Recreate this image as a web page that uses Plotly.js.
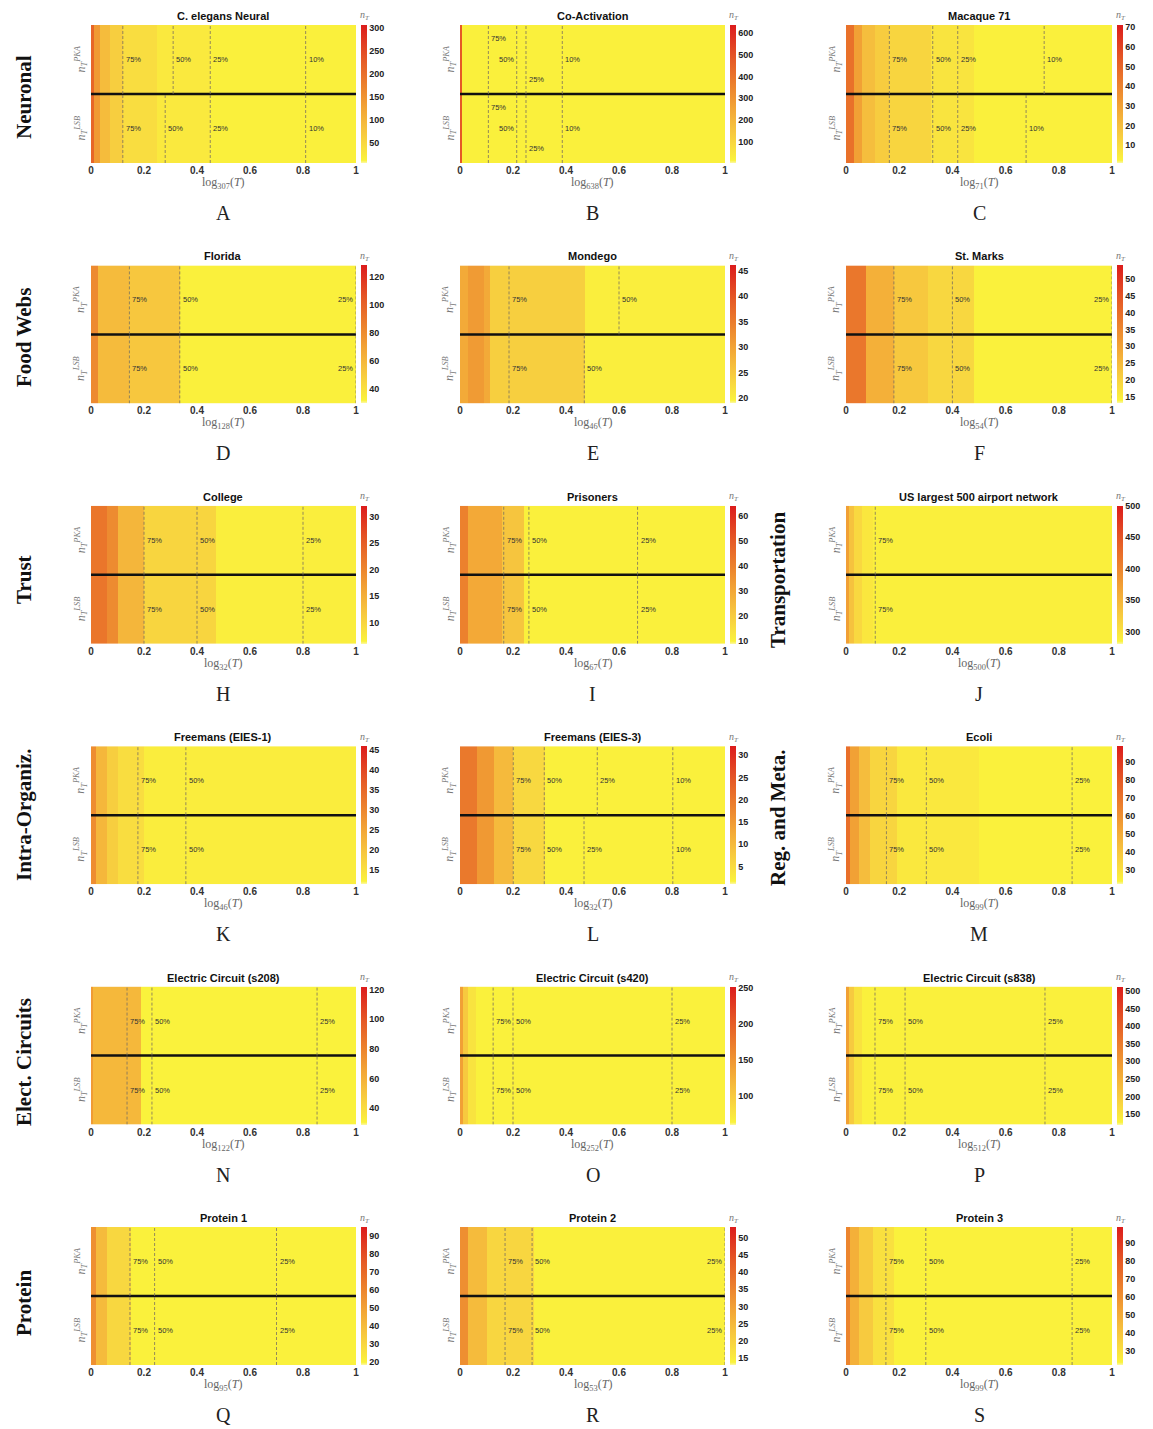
<!DOCTYPE html>
<html><head><meta charset="utf-8">
<script src="https://cdn.plot.ly/plotly-3.0.1.min.js"></script>
<style>html,body{margin:0;padding:0;background:#fff}#chart{width:1153px;height:1429px}</style>
</head><body><div id="chart"></div>
<script>
// ---------------- DATA ----------------
const panelTitles = ['C. elegans Neural','Co-Activation','Macaque 71','Florida','Mondego','St. Marks','College','Prisoners','US largest 500 airport network','Freemans (EIES-1)','Freemans (EIES-3)','Ecoli','Electric Circuit (s208)','Electric Circuit (s420)','Electric Circuit (s838)','Protein 1','Protein 2','Protein 3'];
const panelLetters = ['A','B','C','D','E','F','H','I','J','K','L','M','N','O','P','Q','R','S'];
const logBases = [307,638,71,128,46,54,32,67,500,46,32,99,122,252,512,95,53,99];
const rowLabels = ['Neuronal','Food Webs','Trust','Transportation','Intra-Organiz.','Reg. and Meta.','Elect. Circuits','Protein'];

const cbarMin = [5,0,1,30,19,13,6,9,281,11.5,1,22,29,60,120,18,13,22];
const cbarMax = [307,638,71,128,46,54,32,64,500,46,32,99,122,252,512,95,53,99];
const cbarTicks = [
  [50,100,150,200,250,300],[100,200,300,400,500,600],[10,20,30,40,50,60,70],
  [40,60,80,100,120],[20,25,30,35,40,45],[15,20,25,30,35,40,45,50],
  [10,15,20,25,30],[10,20,30,40,50,60],[300,350,400,450,500],
  [15,20,25,30,35,40,45],[5,10,15,20,25,30],[30,40,50,60,70,80,90],
  [40,60,80,100,120],[100,150,200,250],[150,200,250,300,350,400,450,500],
  [20,30,40,50,60,70,80,90],[15,20,25,30,35,40,45,50],[30,40,50,60,70,80,90]
];

// band edges along log_N(T)
const bandEdges = [
  [0,0.012,0.035,0.07,0.12,0.25,0.45,1],
  [0,0.008,1],
  [0,0.03,0.06,0.11,0.16,0.32,0.48,1],
  [0,0.025,0.145,0.335,1],
  [0,0.03,0.09,0.115,0.47,1],
  [0,0.075,0.18,0.31,0.48,1],
  [0,0.06,0.1,0.2,0.47,1],
  [0,0.03,0.16,0.24,1],
  [0,0.012,0.03,0.06,0.1,1],
  [0,0.02,0.06,0.1,0.2,1],
  [0,0.065,0.13,0.2,0.32,1],
  [0,0.015,0.05,0.09,0.19,0.5,1],
  [0,0.006,0.19,1],
  [0,0.01,0.03,0.06,1],
  [0,0.01,0.03,0.06,1],
  [0,0.02,0.06,0.15,1],
  [0,0.03,0.1,0.28,1],
  [0,0.015,0.05,0.1,0.18,1]
];
const pkaValues = [
  [216,141,90,62,40,24,14],[480,19],[46,30,20,15,12,7,3],[81,58,52,33],
  [29,31,29,24,20],[38,27,22,19,14],[22,19.5,14,10,7],[40,29.5,22,10.6],
  [373,336,312,296,288],[29,22,18,15.5,13],[19.6,15,10,5.4,1.9],[72,54,43,34,27,24],
  [70,57,31],[140,101,77,65],[282,203,156,132],[56,40,29,20],[33,24.5,19,14.2],[64,48,38,30,24]
];
const lsbValues = [
  [216,141,90,62,40,24,14],[480,19],[46,30,20,15,12,7,3],[81,58,52,33],
  [29,31,29,24,20],[38,27,22,19,14],[22,19.5,14,10,7],[40,29.5,22,10.6],
  [373,336,312,296,288],[29,22,18,15.5,13],[19.6,15,10,5.4,1.9],[72,54,43,34,27,24],
  [70,57,31],[140,101,77,65],[282,203,156,132],[56,40,29,20],[33,24.5,19,14.2],[64,48,38,30,24]
];
// percentage thresholds (positions on log_N(T))
const pkaLines = [
  [0.12,0.31,0.45,0.81],[0.107,0.214,0.249,0.386],[0.163,0.326,0.42,0.745],
  [0.145,0.335,1.0],[0.185,0.6],[0.18,0.4,1.0],
  [0.2,0.4,0.8],[0.165,0.26,0.67],[0.11],
  [0.177,0.358],[0.201,0.318,0.518,0.803],[0.152,0.302,0.85],
  [0.136,0.23,0.853],[0.125,0.2,0.8],[0.109,0.222,0.748],
  [0.147,0.24,0.7],[0.17,0.272,1.0],[0.15,0.3,0.85]
];
const lsbLines = [
  [0.12,0.28,0.45,0.81],[0.107,0.214,0.249,0.386],[0.163,0.326,0.42,0.677],
  [0.145,0.335,1.0],[0.185,0.469],[0.18,0.4,1.0],
  [0.2,0.4,0.8],[0.165,0.26,0.67],[0.11],
  [0.177,0.358],[0.201,0.318,0.468,0.803],[0.152,0.302,0.85],
  [0.136,0.23,0.853],[0.125,0.2,0.8],[0.109,0.222,0.748],
  [0.147,0.24,0.7],[0.17,0.272,1.0],[0.15,0.3,0.85]
];
const lineLabels = [
  ['75%','50%','25%','10%'],['75%','50%','25%','10%'],['75%','50%','25%','10%'],
  ['75%','50%','25%'],['75%','50%'],['75%','50%','25%'],
  ['75%','50%','25%'],['75%','50%','25%'],['75%'],
  ['75%','50%'],['75%','50%','25%','10%'],['75%','50%','25%'],
  ['75%','50%','25%'],['75%','50%','25%'],['75%','50%','25%'],
  ['75%','50%','25%'],['75%','50%','25%'],['75%','50%','25%']
];

// ---------------- STYLE / LAYOUT ----------------
const labelStyle = {
  1: {dy:[0.31,0,-0.29,0], anchor:['left','right','left','left']},
  3: {dy:[0,0,0], anchor:['left','left','right']},
  5: {dy:[0,0,0], anchor:['left','left','right']},
  16:{dy:[0,0,0], anchor:['left','left','right']}
};
const rowLabelPos = [[24,97],[24,338],[24,580],[778,580],[24,815],[778,818],[24,1062],[24,1303]];

const W=1153,H=1429;
const colLeft=[91,460,846], colRight=[356,725,1112];
const rowTop0=25, rowStep=240.4, plotH=138;
const fx=p=>p/W, fy=p=>1-p/H;

const colorscale=[[0,'#fcf8a6'],[0.02,'#faf23c'],[0.12,'#f9dc40'],[0.25,'#f6c23e'],[0.4,'#f2a436'],[0.55,'#ec842e'],[0.75,'#e55a26'],[1,'#dc1c1c']];

const traces=[], shapes=[], annotations=[];
const layout={width:W,height:H,margin:{l:0,r:0,t:0,b:0},paper_bgcolor:'#fff',plot_bgcolor:'#fff',showlegend:false,shapes,annotations};

const sansB={family:'Liberation Sans, Arial, sans-serif',size:10,color:'#333',weight:'bold'};

for(let i=0;i<18;i++){
  const col=i%3,row=Math.floor(i/3);
  const L=colLeft[col],R=colRight[col],T=rowTop0+row*rowStep,B=T+plotH;
  const sfx=i===0?'':String(i+1);
  const xa='x'+sfx, ya='y'+sfx;
  layout['xaxis'+sfx]={domain:[fx(L),fx(R)],range:[0,1],anchor:ya,tickvals:[0,0.2,0.4,0.6,0.8,1],ticktext:['0','0.2','0.4','0.6','0.8','1'],ticks:'',showgrid:false,zeroline:false,showline:false,tickfont:sansB,fixedrange:true};
  layout['yaxis'+sfx]={domain:[fy(B),fy(T)],range:[-0.5,1.5],anchor:xa,showticklabels:false,ticks:'',showgrid:false,zeroline:false,showline:false,fixedrange:true};
  traces.push({type:'heatmap',x:bandEdges[i],y:[0,1],z:[lsbValues[i],pkaValues[i]],zmin:cbarMin[i],zmax:cbarMax[i],colorscale,xaxis:xa,yaxis:ya,hoverinfo:'skip',zsmooth:false,
    colorbar:{x:fx(R+5),xanchor:'left',y:fy(T+plotH/2),yanchor:'middle',len:plotH/H,lenmode:'fraction',thickness:6,thicknessmode:'pixels',xpad:0,ypad:0,outlinewidth:0,tickvals:cbarTicks[i],ticks:'',tickfont:{family:'Liberation Sans, Arial, sans-serif',size:9,color:'#222',weight:'bold'}}});

  shapes.push({type:'line',xref:xa,yref:ya,x0:0,x1:1,y0:0.5,y1:0.5,line:{color:'#111',width:2.5}});
  const st=labelStyle[i]||{};
  [[pkaLines[i],1,0.5,1.5],[lsbLines[i],0,-0.5,0.5]].forEach(([lines,yc,y0,y1])=>{
    lines.forEach((v,k)=>{
      shapes.push({type:'line',xref:xa,yref:ya,x0:v,x1:v,y0:y0,y1:y1,line:{color:'#7a7060',width:0.8,dash:'3px,2px'}});
      const anc=(st.anchor&&st.anchor[k])||'left';
      const dy=(st.dy&&st.dy[k])||0;
      annotations.push({xref:xa,yref:ya,x:v,y:yc+dy,text:lineLabels[i][k],showarrow:false,xanchor:anc,yanchor:'middle',xshift:anc==='left'?1:-1,font:{family:'Liberation Sans, Arial, sans-serif',size:7.5,color:'#333'}});
    });
  });

  const cx=fx((L+R)/2);
  annotations.push({xref:'paper',yref:'paper',x:cx,y:fy(T-9),text:panelTitles[i],showarrow:false,xanchor:'center',yanchor:'middle',font:{family:'Liberation Sans, Arial, sans-serif',size:11,color:'#111',weight:'bold'}});
  annotations.push({xref:'paper',yref:'paper',x:fx(R+9),y:fy(T-9),text:'<i>n</i><sub><i>T</i></sub>',showarrow:false,xanchor:'center',yanchor:'middle',font:{family:'Liberation Serif, serif',size:10,color:'#777'}});
  annotations.push({xref:'paper',yref:'paper',x:cx,y:fy(B+20),text:'log<sub>'+logBases[i]+'</sub>(<i>T</i>)',showarrow:false,xanchor:'center',yanchor:'middle',font:{family:'Liberation Serif, serif',size:12,color:'#666'}});
  annotations.push({xref:'paper',yref:'paper',x:cx,y:fy(B+50),text:panelLetters[i],showarrow:false,xanchor:'center',yanchor:'middle',font:{family:'Liberation Serif, serif',size:20,color:'#222'}});
  annotations.push({xref:'paper',yref:'paper',x:fx(L-10),y:fy(T+34.5),text:'<i>n</i><sub><i>T</i></sub><sup><i>PKA</i></sup>',textangle:-90,showarrow:false,xanchor:'center',yanchor:'middle',font:{family:'Liberation Serif, serif',size:12,color:'#777'}});
  annotations.push({xref:'paper',yref:'paper',x:fx(L-10),y:fy(T+103.5),text:'<i>n</i><sub><i>T</i></sub><sup><i>LSB</i></sup>',textangle:-90,showarrow:false,xanchor:'center',yanchor:'middle',font:{family:'Liberation Serif, serif',size:12,color:'#777'}});
}

rowLabels.forEach((t,k)=>{
  annotations.push({xref:'paper',yref:'paper',x:fx(rowLabelPos[k][0]),y:fy(rowLabelPos[k][1]),text:'<b>'+t+'</b>',textangle:-90,showarrow:false,xanchor:'center',yanchor:'middle',font:{family:'Liberation Serif, serif',size:21,color:'#111'}});
});

Plotly.newPlot('chart',traces,layout,{staticPlot:true,displayModeBar:false});
</script></body></html>
